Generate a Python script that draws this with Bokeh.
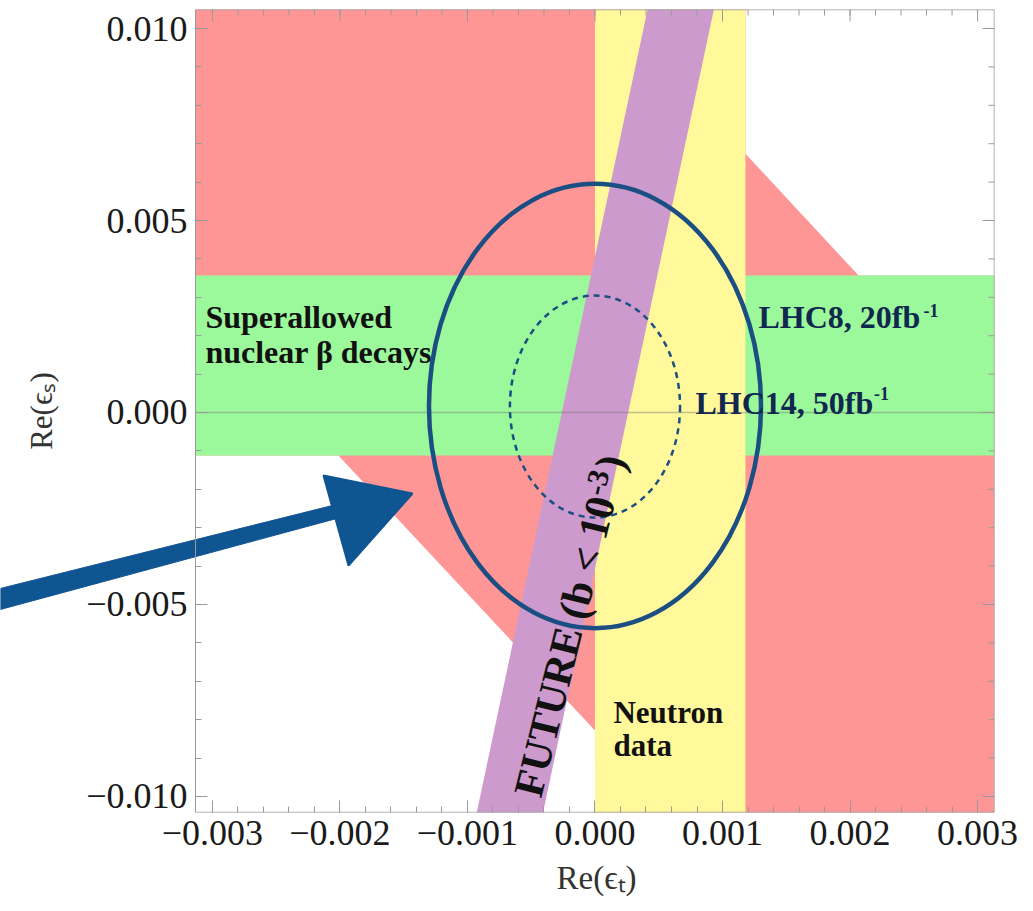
import math
from bokeh.plotting import figure
from bokeh.models import Range1d, FixedTicker, Title
from bokeh.embed import file_html
from bokeh.resources import INLINE
from bokeh.core.properties import value

# ---------------- data ----------------
x_lim = (-0.003133, 0.003133)      # plotted data window
y_lim = (-0.010417, 0.010495)
x_view_left = -0.004662            # canvas extends left so the arrow can reach the page edge

x_ticks = [-0.003, -0.002, -0.001, 0, 0.001, 0.002, 0.003]
x_tick_labels = ["\u22120.003", "\u22120.002", "\u22120.001", "0.000", "0.001", "0.002", "0.003"]
y_ticks = [-0.010, -0.005, 0, 0.005, 0.010]
y_tick_labels = ["\u22120.010", "\u22120.005", "0.000", "0.005", "0.010"]
x_minor = [round(-0.0030 + 0.0002 * i, 6) for i in range(31)]
y_minor = [round(-0.010 + 0.001 * i, 6) for i in range(21)]
x_title = "Re(\u03f5\u209c)"
y_title = "Re(\u03f5\u209b)"

# red region polygon vertices
red_x = [-0.003133, 0.00118, 0.00118, 0.002067, 0.003133, 0.003133, 0.0, 0.0, -0.002012, -0.003133]
red_y = [0.0106, 0.0106, 0.00674, 0.003568, 0.003568, -0.0106, -0.0106, -0.00828, -0.00112, -0.00112]

# superallowed band in eps_S
green_bottom, green_top = -0.00112, 0.003568
# neutron data band in eps_T
yellow_left, yellow_right = 0.0, 0.00118
# future band
purple_x = [-0.000939, -0.000419, 0.000939, 0.000419]
purple_y = [-0.0106, -0.0106, 0.0106, 0.0106]

# LHC ellipses: centre x, centre y, full width, full height
lhc8 = dict(x=0.0, y=0.00017, w=0.002604, h=0.01158)
lhc14 = dict(x=0.0, y=0.000156, w=0.001334, h=0.00578)

# hand-drawn arrow (shaft & head)
arrow_shaft_x = [-0.004663, -0.001996, -0.001996, -0.004663]
arrow_shaft_y = [-0.004583, -0.00237, -0.002734, -0.00513]
arrow_head_x = [-0.002129, -0.001431, -0.001933]
arrow_head_y = [-0.001641, -0.002109, -0.003984]

# ---------------- figure ----------------
FW, FH = 994, 803
p = figure(frame_width=FW, frame_height=FH,
           x_range=Range1d(x_view_left, x_lim[1]), y_range=Range1d(*y_lim),
           output_backend="svg", toolbar_location=None,
           min_border_left=0, min_border_right=31, min_border_top=9, min_border_bottom=99,
           background_fill_color="white", border_fill_color="white")
p.grid.visible = False
p.outline_line_color = None

px_x = FW / (x_lim[1] - x_view_left)
px_y = FH / (y_lim[1] - y_lim[0])

RED = "#FF9696"
GREEN = "#9BF99B"
YELLOW = "#FFF99B"
PURPLE = "#CC9ACC"

p.patch(red_x, red_y, fill_color=RED, line_color=None)
p.quad(left=[x_lim[0]], right=[x_lim[1]], bottom=[green_bottom], top=[green_top],
       fill_color=GREEN, line_color=None)
p.quad(left=[yellow_left], right=[yellow_right], bottom=[-0.0106], top=[0.0106],
       fill_color=YELLOW, line_color=None)
p.patch(purple_x, purple_y, fill_color=PURPLE, line_color=None)
p.line([x_lim[0], x_lim[1]], [0, 0], line_color="#7a7a7a", line_alpha=0.45, line_width=1.5)

ELL = "#1B4E82"
p.ellipse(x=[lhc8["x"]], y=[lhc8["y"]], width=[lhc8["w"]], height=[lhc8["h"]],
          fill_color=None, line_color=ELL, line_width=4.5)
p.ellipse(x=[lhc14["x"]], y=[lhc14["y"]], width=[lhc14["w"]], height=[lhc14["h"]],
          fill_color=None, line_color=ELL, line_width=2.5, line_dash="6 5")

SERIF = value("Liberation Serif")

def txt(x, y, s, size, color="#111111", angle=0.0):
    p.text(x=[x], y=[y], text=[s], text_font=SERIF, text_font_size=size,
           text_font_style="bold", text_color=color, text_align="left",
           text_baseline="alphabetic", angle=angle, angle_units="deg")

txt(-0.003055, 0.002474, "Superallowed", "32px")
txt(-0.003055, 0.001563, "nuclear \u03b2 decays", "32px")
NAVY = "#10284F"
txt(0.001282, 0.002474, "LHC8, 20fb", "32px", NAVY)
txt(0.002576, 0.002656, "-1", "18px", NAVY)
txt(0.000788, 0.00026, "LHC14, 50fb", "32px", NAVY)
txt(0.002188, 0.000495, "-1", "18px", NAVY)
txt(0.000145, -0.0078125, "Neutron", "31px")
txt(0.000145, -0.008672, "data", "31px")

# rotated FUTURE label placed along band
ang = 76.0
ux, uy = math.cos(math.radians(ang)), math.sin(math.radians(ang))
vx, vy = -uy, ux
x0, y0 = -0.000529, -0.009974
def along(a, b):
    return x0 + (ux * a + vx * b) / px_x, y0 + (uy * a + vy * b) / px_y
txt(x0, y0, "FUTURE (b < 10", "42px", angle=ang)
sx, sy = along(308, 8)
txt(sx, sy, "-3", "30px", angle=ang)
sx, sy = along(336, 0)
txt(sx, sy, ")", "42px", angle=ang)

# arrow
ARROW = "#0F5592"
p.patch(arrow_shaft_x, arrow_shaft_y, fill_color=ARROW, line_color=ARROW, line_width=1)
p.patch(arrow_head_x, arrow_head_y, fill_color=ARROW, line_color=ARROW, line_width=2)

# ---------------- axes ----------------
xt = FixedTicker(ticks=x_ticks, minor_ticks=x_minor)
yt = FixedTicker(ticks=y_ticks, minor_ticks=y_minor)

TICK = "#9a9a9a"
for ax in (p.xaxis[0], p.yaxis[0]):
    ax.axis_line_color = TICK
    ax.major_tick_line_color = TICK
    ax.minor_tick_line_color = TICK
    ax.major_tick_in = 12
    ax.major_tick_out = 0
    ax.minor_tick_in = 6
    ax.minor_tick_out = 0
    ax.major_label_text_font = "Liberation Serif"
    ax.major_label_text_font_size = "36px"
    ax.major_label_text_color = "#1a1a1a"
    ax.major_label_standoff = 8
    ax.axis_label_text_font = "Liberation Serif"
    ax.axis_label_text_font_size = "31px"
    ax.axis_label_text_font_style = "normal"
    ax.axis_label_text_color = "#333333"

p.xaxis.ticker = xt
p.yaxis.ticker = yt
p.yaxis.fixed_location = x_lim[0]
p.xaxis.axis_line_color = None
p.xaxis.major_label_overrides = {t: l for t, l in zip(x_ticks, x_tick_labels)}
p.yaxis.major_label_overrides = {t: l for t, l in zip(y_ticks, y_tick_labels)}
p.yaxis.axis_label = y_title
p.yaxis.axis_label_standoff = 24

# x-axis title centred under the data window (not the whole canvas)
p.add_layout(Title(text=x_title, align="left", offset=556, standoff=20,
                   text_font="Liberation Serif", text_font_size="33px",
                   text_font_style="normal", text_color="#333333"), "below")

# frame border (bottom, top, right) and ticks on the top and right edges
p.line([x_lim[0], x_lim[1], x_lim[1], x_lim[0]], [y_lim[0], y_lim[0], y_lim[1], y_lim[1]],
       line_color=TICK, line_width=1.5)
maj_len_y, min_len_y = 12 / px_y, 6 / px_y
maj_len_x, min_len_x = 12 / px_x, 6 / px_x
top_y = y_lim[1]
right_x = x_lim[1]
p.segment(x0=x_ticks, y0=[top_y] * len(x_ticks), x1=x_ticks, y1=[top_y - maj_len_y] * len(x_ticks),
          line_color=TICK, line_width=1)
p.segment(x0=x_minor, y0=[top_y] * len(x_minor), x1=x_minor, y1=[top_y - min_len_y] * len(x_minor),
          line_color=TICK, line_width=1)
p.segment(x0=[right_x] * len(y_ticks), y0=y_ticks, x1=[right_x - maj_len_x] * len(y_ticks), y1=y_ticks,
          line_color=TICK, line_width=1)
p.segment(x0=[right_x] * len(y_minor), y0=y_minor, x1=[right_x - min_len_x] * len(y_minor), y1=y_minor,
          line_color=TICK, line_width=1)

open("out.html", "w").write(file_html(p, INLINE))
